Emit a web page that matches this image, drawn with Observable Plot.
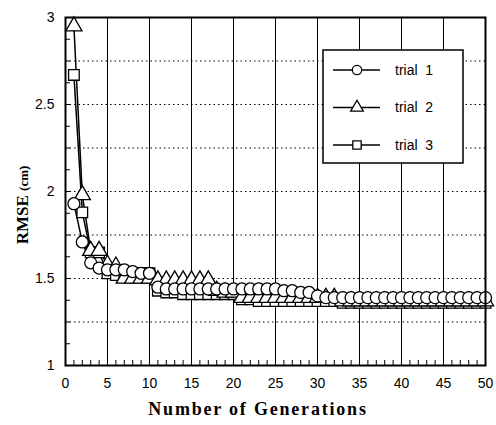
<!DOCTYPE html>
<html>
<head>
<meta charset="utf-8">
<script src="https://cdn.jsdelivr.net/npm/d3@7"></script>
<script src="https://cdn.jsdelivr.net/npm/@observablehq/plot@0.6"></script>
<style>
  html, body { margin: 0; padding: 0; background: #fff; }
  #chart svg { display: block; }
</style>
</head>
<body>
<div id="chart"></div>
<script>
const generations = [1,2,3,4,5,6,7,8,9,10,11,12,13,14,15,16,17,18,19,20,21,22,23,24,25,26,27,28,29,30,31,32,33,34,35,36,37,38,39,40,41,42,43,44,45,46,47,48,49,50];
const trial1 = [1.93,1.71,1.59,1.56,1.55,1.55,1.55,1.54,1.53,1.53,
                1.45,1.44,1.44,1.44,1.44,1.44,1.44,1.44,1.44,1.44,
                1.44,1.44,1.44,1.44,1.44,1.43,1.43,1.42,1.42,1.40,
                1.39,1.39,1.39,1.39,1.39,1.39,1.39,1.39,1.39,1.39,
                1.39,1.39,1.39,1.39,1.39,1.39,1.39,1.39,1.39,1.39];
const trial2 = [2.95,1.98,1.66,1.66,1.58,1.57,1.50,1.50,1.50,1.50,
                1.49,1.49,1.49,1.49,1.49,1.49,1.49,1.43,1.42,1.42,
                1.39,1.39,1.39,1.39,1.39,1.39,1.39,1.39,1.39,1.39,
                1.39,1.39,1.37,1.37,1.37,1.37,1.37,1.37,1.37,1.37,
                1.37,1.37,1.37,1.37,1.37,1.37,1.37,1.37,1.37,1.37];
const trial3 = [2.67,1.88,1.65,1.65,1.53,1.52,1.53,1.53,1.53,1.53,
                1.43,1.42,1.42,1.41,1.41,1.41,1.41,1.41,1.41,1.41,
                1.38,1.38,1.37,1.37,1.37,1.37,1.37,1.37,1.37,1.37,
                1.37,1.37,1.36,1.36,1.36,1.36,1.36,1.36,1.36,1.36,
                1.36,1.36,1.36,1.36,1.36,1.36,1.36,1.36,1.36,1.36];
const trialNames = ["trial  1", "trial  2", "trial  3"];
const trialSymbols = ["circle", "triangle", "square"];
const xTicks = [0,5,10,15,20,25,30,35,40,45,50];
const xGrid = [5,10,15,20,25,30,35,40,45];
const xMinor = [0,1,2,3,4,5,6,7,8,9,10,11,12,13,14,15,16,17,18,19,20,21,22,23,24,25,26,27,28,29,30,31,32,33,34,35,36,37,38,39,40,41,42,43,44,45,46,47,48,49,50];
const yTicks = [1,1.5,2,2.5,3];
const yGrid = [1.25,1.5,1.75,2,2.25,2.5,2.75];
const yMinor = [1,1.125,1.25,1.375,1.5,1.625,1.75,1.875,2,2.125,2.25,2.375,2.5,2.625,2.75,2.875,3];

const series = [trial1, trial2, trial3];
const rows = [];
series.forEach((vals, i) => vals.forEach((v, j) => rows.push({gen: generations[j], rmse: v, trial: trialNames[i], order: i})));

const markerMarks = [2,1,0].map(i =>
  Plot.dot(rows.filter(d => d.order === i), {x: "gen", y: "rmse", symbol: () => trialSymbols[i], r: 6, fill: "white", stroke: "black", strokeWidth: 1.3})
);

const plot = Plot.plot({
  width: 496,
  height: 425,
  marginLeft: 65,
  marginRight: 11,
  marginTop: 17,
  marginBottom: 60,
  style: {fontFamily: "'Liberation Sans', Arial, sans-serif", fontSize: "14px", color: "black", background: "white"},
  symbol: {type: "identity"},
  x: {domain: [0, 50]},
  y: {domain: [1, 3]},
  marks: [
    Plot.gridX(xGrid, {stroke: "black", strokeOpacity: 1, strokeWidth: 1}),
    Plot.gridY(yGrid, {stroke: "black", strokeOpacity: 1, strokeWidth: 1, strokeDasharray: "1.5,3"}),
    Plot.axisX(xMinor, {tickSize: -5, tickFormat: () => "", label: null, stroke: "black"}),
    Plot.axisY(yMinor, {tickSize: -5, tickFormat: () => "", label: null, stroke: "black"}),
    Plot.axisX(xTicks, {tickSize: 0, tickPadding: 13, label: null, fontSize: 14}),
    Plot.axisY(yTicks, {tickSize: 0, tickPadding: 11, label: null, fontSize: 14, tickFormat: d => String(d)}),
    Plot.line(rows, {x: "gen", y: "rmse", z: "trial", stroke: "black", strokeWidth: 1.5}),
    ...markerMarks,
    Plot.frame({stroke: "black", strokeWidth: 2})
  ]
});

const svg = d3.select(plot);
// axis titles
svg.append("text")
  .attr("x", 258).attr("y", 415)
  .attr("text-anchor", "middle")
  .attr("font-family", "'Liberation Serif', 'Times New Roman', serif")
  .attr("font-weight", "bold").attr("font-size", 18)
  .attr("letter-spacing", 1.8)
  .text("Number of Generations");
const yl = svg.append("text")
  .attr("transform", "translate(28,205) rotate(-90)")
  .attr("text-anchor", "middle")
  .attr("font-family", "'Liberation Serif', 'Times New Roman', serif")
  .attr("font-weight", "bold").attr("font-size", 17);
yl.append("tspan").text("RMSE ");
yl.append("tspan").attr("font-size", 13).text("(cm)");

// legend
const lg = svg.append("g");
lg.append("rect").attr("x", 323).attr("y", 50).attr("width", 140).attr("height", 113)
  .attr("fill", "white").attr("stroke", "black").attr("stroke-width", 1.5);
const symTypes = [d3.symbolCircle, d3.symbolTriangle, d3.symbolSquare];
trialNames.forEach((name, i) => {
  const yy = 70 + i * 37.5;
  lg.append("line").attr("x1", 333).attr("x2", 380).attr("y1", yy).attr("y2", yy)
    .attr("stroke", "black").attr("stroke-width", 1.5);
  lg.append("path").attr("d", d3.symbol().type(symTypes[i]).size(Math.PI * 22)())
    .attr("transform", `translate(357,${yy})`)
    .attr("fill", "white").attr("stroke", "black").attr("stroke-width", 1.3);
  lg.append("text").attr("x", 395).attr("y", yy).attr("dy", "0.35em")
    .attr("text-anchor", "start")
    .attr("font-family", "'Liberation Sans', Arial, sans-serif").attr("font-size", 14)
    .attr("xml:space", "preserve").style("white-space", "pre")
    .text(name);
});

document.getElementById("chart").appendChild(plot);
</script>
</body>
</html>
